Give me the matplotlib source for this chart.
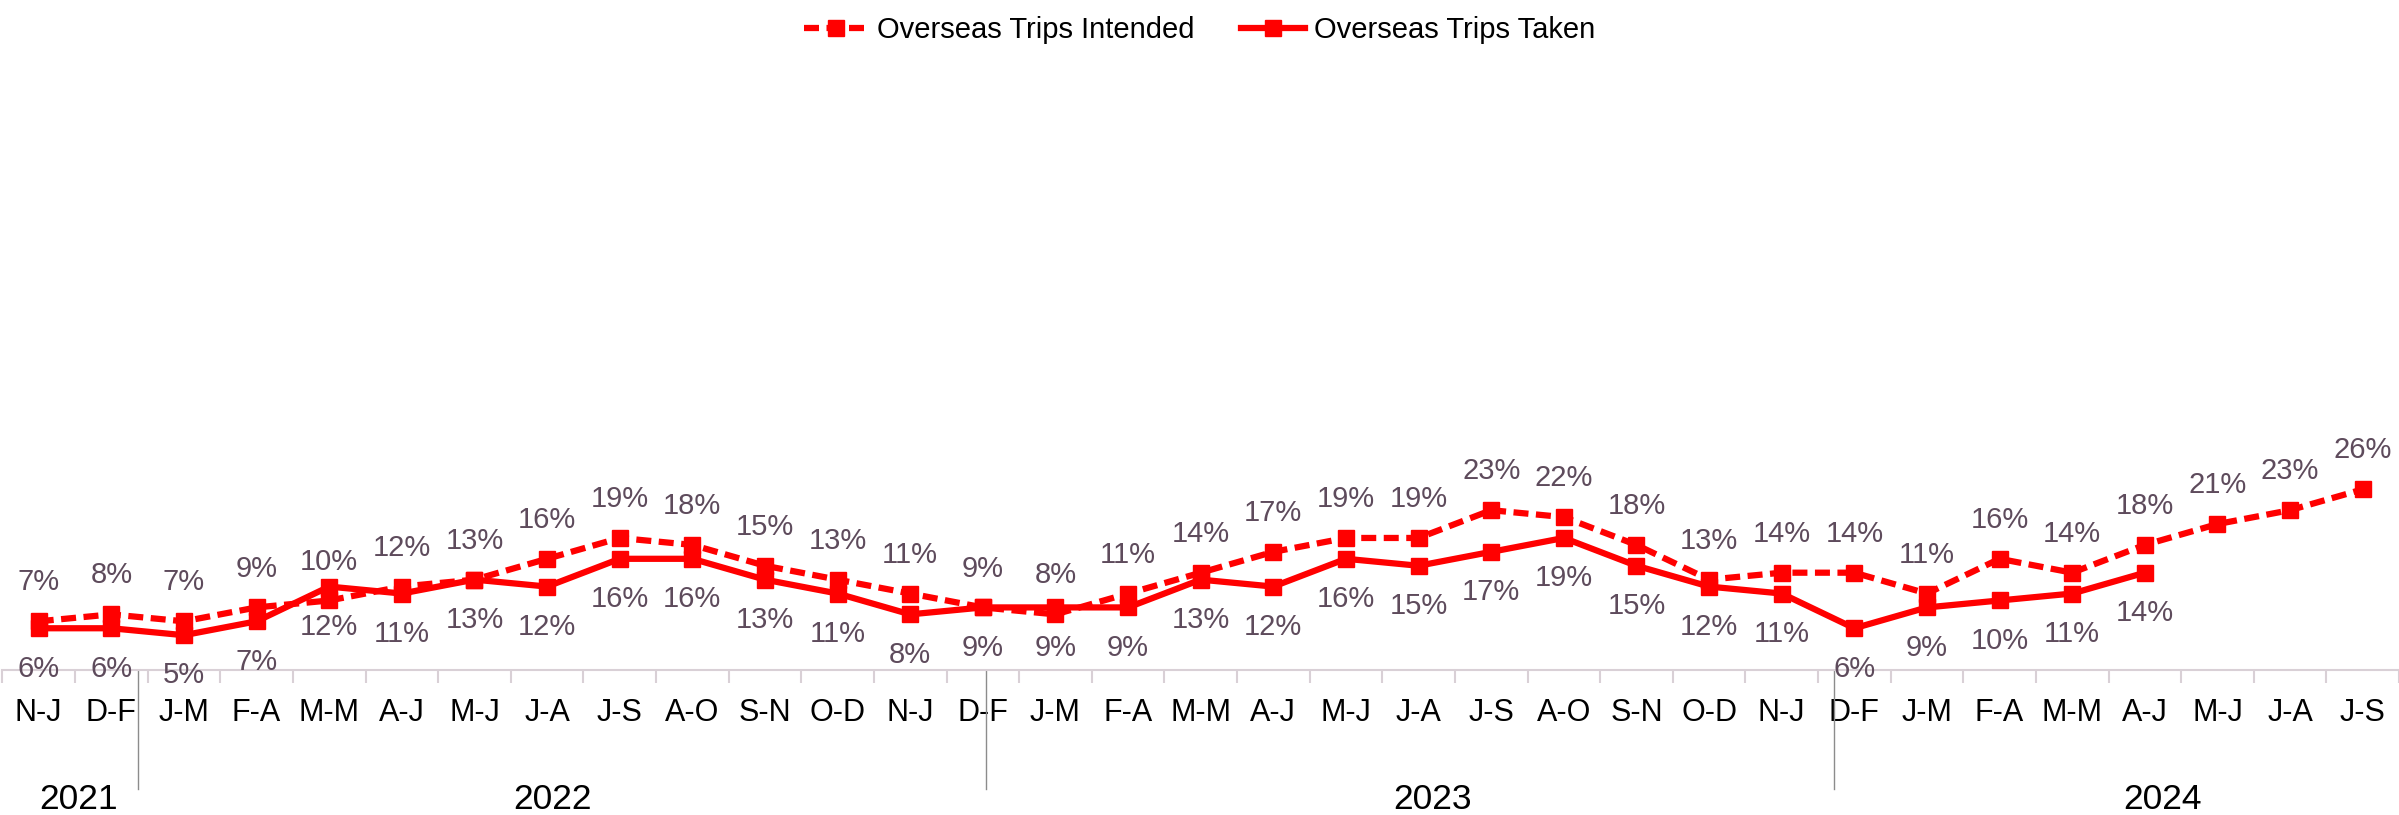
import matplotlib as mpl
mpl.use('Agg')
import matplotlib.pyplot as plt
from matplotlib import font_manager

# two-month rolling periods, Nov-Jan 2021 .. Jul-Sep 2024
periods = ['N-J', 'D-F', 'J-M', 'F-A', 'M-M', 'A-J', 'M-J', 'J-A', 'J-S', 'A-O', 'S-N', 'O-D',
           'N-J', 'D-F', 'J-M', 'F-A', 'M-M', 'A-J', 'M-J', 'J-A', 'J-S', 'A-O', 'S-N', 'O-D',
           'N-J', 'D-F', 'J-M', 'F-A', 'M-M', 'A-J', 'M-J', 'J-A', 'J-S']

intended = [7, 8, 7, 9, 10, 12, 13, 16, 19, 18, 15, 13,
            11, 9, 8, 11, 14, 17, 19, 19, 23, 22, 18, 13,
            14, 14, 11, 16, 14, 18, 21, 23, 26]

taken = [6, 6, 5, 7, 12, 11, 13, 12, 16, 16, 13, 11,
         8, 9, 9, 9, 13, 12, 16, 15, 17, 19, 15, 12,
         11, 6, 9, 10, 11, 14]

years = ['2021', '2022', '2023', '2024']
year_pos = [0.55, 7.07, 19.19, 29.24]
year_breaks = [1.37, 13.04, 24.72]

names = {f.name for f in font_manager.fontManager.ttflist}
narrow = 'Liberation Sans Narrow' if 'Liberation Sans Narrow' in names else 'Liberation Sans'
plt.rcParams['font.family'] = narrow

RED = '#FF0000'
LBL = '#5E4B5C'

fig = plt.figure(figsize=(23.99, 8.15), dpi=100)
ax = fig.add_axes([0.001, 0.178, 0.999, 0.767])

x = list(range(len(periods)))
ax.plot(x, intended, color=RED, lw=4.5, ls=(0, (2.4, 1.2)), marker='s', ms=11,
        label='Overseas Trips Intended')
ax.plot(x[:len(taken)], taken, color=RED, lw=4.5, marker='s', ms=11,
        label='Overseas Trips Taken')

for i, v in enumerate(intended):
    ax.annotate(f'{v}%', (i, v), xytext=(0, 28), textcoords='offset points',
                ha='center', va='center', fontsize=21, color=LBL)
for i, v in enumerate(taken):
    ax.annotate(f'{v}%', (i, v), xytext=(0, -29), textcoords='offset points',
                ha='center', va='center', fontsize=21, color=LBL)

ax.set_xlim(-0.5, len(periods) - 0.5)
ax.set_ylim(0, 90)
ax.set_yticks([])
for s in ['top', 'right', 'left']:
    ax.spines[s].set_visible(False)
ax.spines['bottom'].set_color('#D9D0D6')
ax.spines['bottom'].set_linewidth(1.5)

ax.set_xticks(x)
ax.set_xticklabels(periods, fontsize=22, color='black')
ax.tick_params(axis='x', which='major', length=0, pad=20)
ax.set_xticks([i + 0.5 for i in range(-1, len(periods))], minor=True)
ax.tick_params(axis='x', which='minor', length=9, width=1.5, color='#D9D0D6')

# year separators and labels under the period axis
for b in year_breaks:
    ax.plot([b, b], [0, -0.19], transform=ax.get_xaxis_transform(),
            color='#8C8C8C', lw=1, clip_on=False)
for y, p in zip(years, year_pos):
    ax.text(p, -0.208, y, transform=ax.get_xaxis_transform(), ha='center', va='center',
            fontsize=25.5, color='black')

leg = fig.legend(loc='upper center', bbox_to_anchor=(0.5, 1.012), ncol=2, frameon=False,
                 fontsize=21, handlelength=2.2, columnspacing=1.6, handletextpad=0.3)

fig.savefig('out.png', dpi=100)
